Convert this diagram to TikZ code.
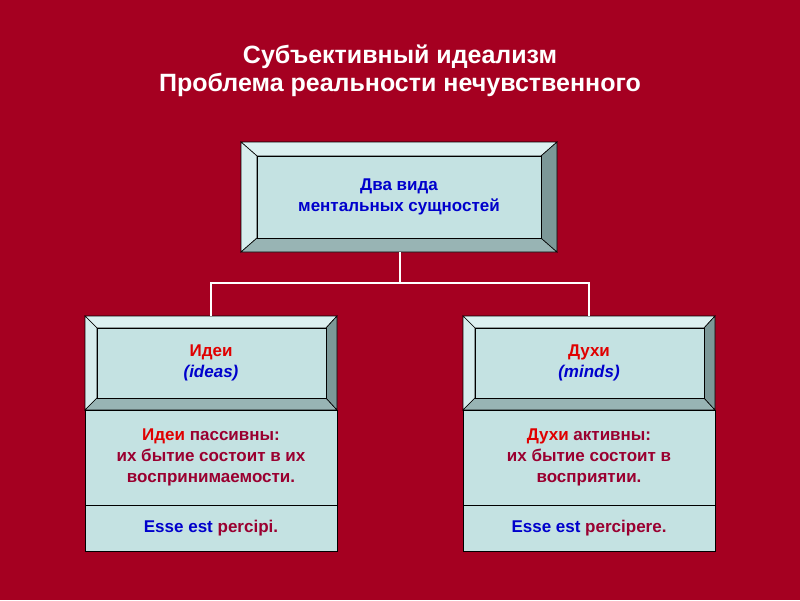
\documentclass[tikz,border=0pt]{standalone}
\usepackage{fontspec}
\setmainfont{Liberation Sans}
\definecolor{bg}{HTML}{A50021}
\definecolor{face}{HTML}{C4E2E2}
\definecolor{lt}{HTML}{DCF0F0}
\definecolor{dk}{HTML}{98B4B4}
\definecolor{dk2}{HTML}{7C9898}
\definecolor{tb}{HTML}{0000CC}
\definecolor{tr}{HTML}{E00000}
\definecolor{tm}{HTML}{9A0030}
\newcommand{\bevbox}[8]{%
 \fill[lt,draw=black,line width=0.6pt] (#1,#2)--(#3,#2)--(#7,#6)--(#5,#6)--cycle;
 \fill[lt!80!face,draw=black,line width=0.6pt] (#1,#2)--(#5,#6)--(#5,#8)--(#1,#4)--cycle;
 \fill[dk,draw=black,line width=0.6pt] (#1,#4)--(#5,#8)--(#7,#8)--(#3,#4)--cycle;
 \fill[dk2,draw=black,line width=0.6pt] (#3,#2)--(#7,#6)--(#7,#8)--(#3,#4)--cycle;
 \fill[face,draw=black,line width=0.6pt] (#5,#6) rectangle (#7,#8);}
\tikzset{txt/.style={align=center,font=\bfseries\fontsize{17}{21}\selectfont},
 plain/.style={fill=face,draw=black,line width=0.6pt},
 conn/.style={white,line width=1.5pt}}
\begin{document}
\begin{tikzpicture}[x=1pt,y=-1pt]
\fill[bg] (0,0) rectangle (800,600);
\node[white,font=\bfseries\fontsize{25}{30}\selectfont,align=center] (title) at (400,71) {Субъективный идеализм\\[-2pt]Проблема реальности нечувственного};
\bevbox{241}{142}{557}{252}{257}{156}{541}{238}
\node[txt,tb] (top) at (399,197) {Два вида\\ментальных сущностей};
\bevbox{85}{316}{337}{410}{97}{328}{326}{398}
\bevbox{463}{316}{715}{410}{475}{328}{704}{398}
\node[txt] (ideas) at (211,363) {\textcolor{tr}{Идеи}\\\textcolor{tb}{\itshape(ideas)}};
\node[txt] (minds) at (589,363) {\textcolor{tr}{Духи}\\\textcolor{tb}{\itshape(minds)}};
\draw[plain] (85,410) rectangle (337,505);
\draw[plain] (85,505) rectangle (337,551);
\draw[plain] (463,410) rectangle (715,505);
\draw[plain] (463,505) rectangle (715,551);
\node[txt,tm] (ldesc) at (211,457) {\textcolor{tr}{Идеи} пассивны:\\их бытие состоит в их\\воспринимаемости.};
\node[txt,tm] (rdesc) at (589,457) {\textcolor{tr}{Духи} активны:\\их бытие состоит в\\восприятии.};
\node[txt] (lesse) at (211,528) {\textcolor{tb}{Esse est} \textcolor{tm}{percipi.}};
\node[txt] (resse) at (589,528) {\textcolor{tb}{Esse est} \textcolor{tm}{percipere.}};
\coordinate (tb) at (400,252);
\coordinate (mid) at (400,283);
\coordinate (lt) at (211,316);
\coordinate (rt) at (589,316);
\draw[conn] (tb)--(mid);
\draw[conn] (lt)|-(mid)-|(rt);
\end{tikzpicture}
\end{document}
